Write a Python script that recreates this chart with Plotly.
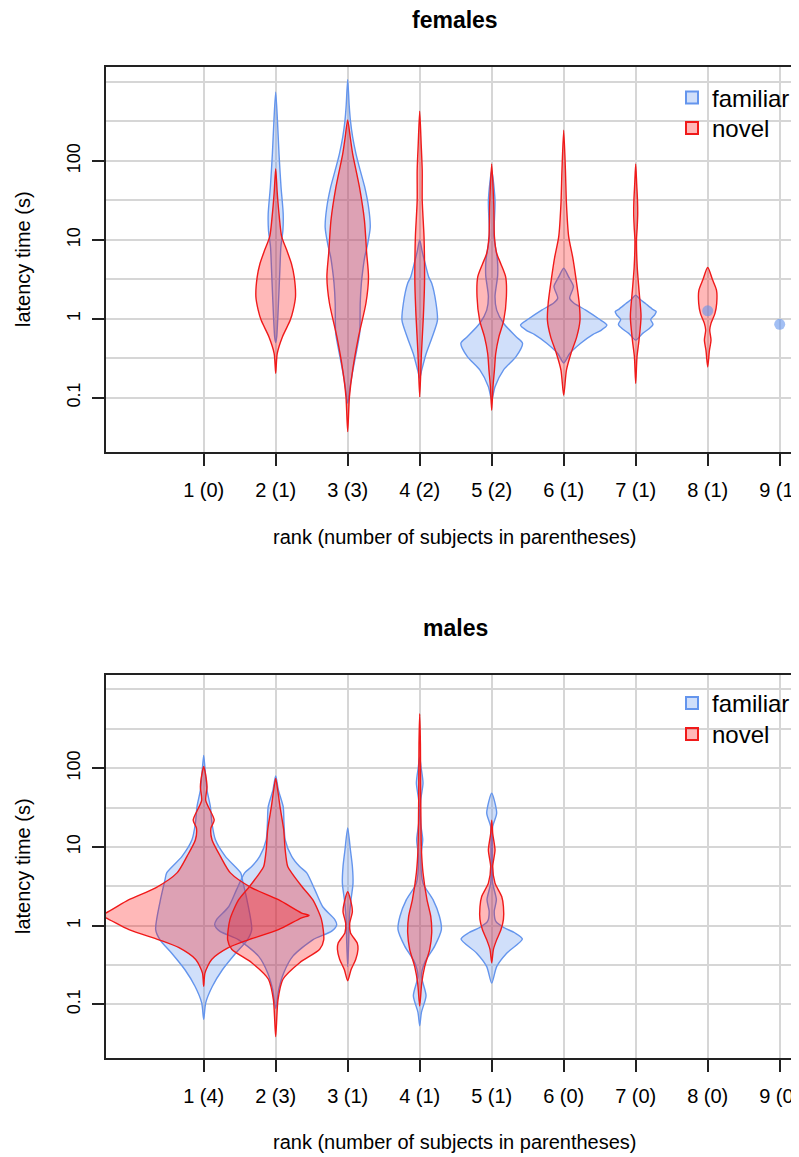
import plotly.graph_objects as go

# ---------------- categories / tick labels ----------------
ranks = [1, 2, 3, 4, 5, 6, 7, 8, 9]
female_tick_labels = ["1 (0)", "2 (1)", "3 (3)", "4 (2)", "5 (2)", "6 (1)", "7 (1)", "8 (1)", "9 (1)"]
male_tick_labels = ["1 (4)", "2 (3)", "3 (1)", "4 (1)", "5 (1)", "6 (0)", "7 (0)", "8 (0)", "9 (0)"]
y_tick_values = [0.1, 1, 10, 100]
y_tick_labels = ["0.1", "1", "10", "100"]
y_grid_values = [0.316, 3.16, 31.6, 316, 1000]

# ---------------- violin outlines ----------------
# *_log : log10 latency (s), from the top tip to the bottom tip
# *_w   : half width of the violin (in rank units) at each of those levels

# females
f2_fam_log = [2.87, 2.5, 2.09, 1.67, 1.33, 1.12, 0.91, 0.62, 0.19, -0.23, -0.3]
f2_fam_w = [0, .025, .046, .074, .104, .1, .072, .058, .038, .014, 0]
f2_nov_log = [1.90, 1.6, 1.3, 1.04, 0.87, 0.70, 0.53, 0.28, 0.11, -0.02, -0.23, -0.44, -0.69]
f2_nov_w = [0, .021, .049, .083, .153, .218, .257, .275, .243, .201, .093, .021, 0]

f3_fam_log = [3.03, 2.7, 2.51, 2.3, 2.09, 1.88, 1.67, 1.4, 1.16, 0.95, 0.78, 0.6, 0.45, 0.2, -0.18, -0.4, -0.61, -0.85, -1.07]
f3_fam_w = [0, .021, .038, .069, .115, .174, .236, .292, .313, .278, .236, .208, .19, .174, .167, .125, .081, .035, 0]
f3_nov_log = [2.52, 2.3, 2.09, 1.67, 1.25, 0.83, 0.53, 0.2, -0.23, -0.65, -0.99, -1.43]
f3_nov_w = [0, .035, .069, .163, .232, .264, .289, .254, .15, .069, .024, 0]

f4_fam_log = [1.0, 0.85, 0.70, 0.53, 0.45, 0.2, -0.02, -0.23, -0.44, -0.65, -0.75]
f4_fam_w = [0, .035, .076, .125, .167, .226, .246, .174, .09, .028, 0]
f4_nov_log = [2.63, 2.2, 1.88, 1.5, 1.04, 0.7, 0.45, 0.03, -0.44, -0.99]
f4_nov_w = [0, .021, .035, .035, .06, .067, .067, .051, .024, 0]

f5_fam_log = [1.88, 1.5, 1.04, 0.75, 0.55, 0.28, 0.11, -0.06, -0.23, -0.31, -0.48, -0.65, -0.86, -1.03]
f5_fam_w = [0, .046, .032, .079, .083, .046, .069, .167, .343, .428, .338, .163, .046, 0]
f5_nov_log = [1.96, 1.46, 1.04, 0.83, 0.7, 0.53, 0.28, -0.02, -0.23, -0.44, -0.65, -0.86, -1.16]
f5_nov_w = [0, .028, .038, .069, .125, .194, .204, .167, .1, .056, .038, .018, 0]

f6_fam_log = [0.64, 0.53, 0.41, 0.26, 0.2, 0.11, 0.0, -0.08, -0.15, -0.2, -0.31, -0.44, -0.56]
f6_fam_w = [0, .069, .135, .083, .139, .306, .486, .6, .514, .403, .236, .083, 0]
f6_nov_log = [2.39, 1.88, 1.46, 1.04, 0.78, 0.53, 0.2, -0.02, -0.23, -0.44, -0.65, -0.97]
f6_nov_w = [0, .024, .038, .069, .125, .167, .215, .226, .181, .101, .038, 0]

f7_fam_log = [0.30, 0.25, 0.19, 0.12, 0.09, 0.05, -0.01, -0.07, -0.12, -0.185, -0.27]
f7_fam_w = [0, .056, .139, .236, .285, .264, .208, .24, .194, .097, 0]
f7_nov_log = [1.96, 1.7, 1.5, 1.33, 1.16, 1.0, 0.66, 0.36, 0.03, -0.27, -0.48, -0.82]
f7_nov_w = [0, .014, .025, .028, .021, .011, .021, .046, .074, .046, .018, 0]

f8_nov_log = [0.65, 0.49, 0.363, 0.195, 0.068, -0.058, -0.143, -0.27, -0.4, -0.61]
f8_nov_w = [0, .069, .122, .125, .101, .046, .028, .046, .024, 0]

# single familiar observations (latency, s)
female_familiar_point_ranks = [8, 9]
female_familiar_point_latency = [1.26, 0.85]

# males
m1_fam_log = [2.16, 1.93, 1.72, 1.51, 1.30, 1.09, 0.88, 0.67, 0.58, 0.3, -0.05, -0.18, -0.35, -0.56, -0.77, -0.98, -1.19]
m1_fam_w = [0, .024, .046, .093, .115, .163, .301, .514, .538, .607, .667, .607, .444, .26, .121, .028, 0]
m1_nov_log = [2.02, 1.93, 1.76, 1.59, 1.34, 1.24, 1.09, 0.88, 0.67, 0.48, 0.33, 0.16, 0.13, 0.10, -0.05, -0.18, -0.28, -0.43, -0.6, -0.77]
m1_nov_w = [0, .024, .046, .028, .146, .101, .115, .232, .371, .667, 1.038, 1.36, 1.463, 1.36, 1.038, .621, .343, .111, .018, 0]

m2_fam_log = [1.90, 1.72, 1.51, 1.30, 1.09, 0.88, 0.75, 0.67, 0.46, 0.24, 0.08, 0.01, -0.07, -0.18, -0.39, -0.6, -0.81, -1.05]
m2_fam_w = [0, .038, .104, .115, .132, .222, .333, .431, .542, .653, .819, .847, .778, .514, .236, .111, .042, 0]
m2_nov_log = [1.87, 1.72, 1.51, 1.22, 0.96, 0.75, 0.67, 0.50, 0.33, 0.08, -0.18, -0.3, -0.47, -0.68, -0.94, -1.41]
m2_nov_w = [0, .028, .06, .111, .132, .167, .222, .361, .514, .635, .667, .611, .333, .101, .032, 0]

m3_fam_log = [1.24, 0.96, 0.75, 0.54, 0.33, 0.12, -0.2, -0.52]
m3_fam_w = [0, .038, .065, .074, .046, .024, .014, 0]
m3_nov_log = [0.43, 0.33, 0.18, 0.03, -0.09, -0.22, -0.3, -0.43, -0.56, -0.7]
m3_nov_w = [0, .038, .065, .028, .038, .132, .143, .111, .046, 0]

m4_fam_log = [2.14, 2.02, 1.81, 1.59, 1.3, 1.09, 0.88, 0.54, 0.33, 0.12, -0.05, -0.26, -0.47, -0.64, -0.89, -1.1, -1.27]
m4_fam_w = [0, .018, .046, .014, .014, .042, .018, .046, .185, .274, .301, .208, .069, .024, .088, .024, 0]
m4_nov_log = [2.69, 2.3, 1.59, 0.96, 0.67, 0.33, 0.12, -0.09, -0.3, -0.52, -0.73, -1.02]
m4_nov_w = [0, .01, .014, .024, .046, .101, .153, .167, .139, .069, .028, 0]

m5_fam_log = [1.68, 1.43, 1.26, 0.96, 0.54, 0.33, 0.18, 0.05, -0.03, -0.09, -0.17, -0.35, -0.52, -0.73]
m5_fam_w = [0, .069, .014, .01, .014, .065, .035, .06, .181, .319, .426, .208, .069, 0]
m5_nov_log = [1.34, 1.17, 0.96, 0.75, 0.54, 0.37, 0.24, 0.08, -0.05, -0.18, -0.3, -0.47]
m5_nov_w = [0, .014, .046, .014, .046, .139, .163, .163, .129, .069, .024, 0]

female_familiar = [(2, f2_fam_log, f2_fam_w), (3, f3_fam_log, f3_fam_w), (4, f4_fam_log, f4_fam_w),
                   (5, f5_fam_log, f5_fam_w), (6, f6_fam_log, f6_fam_w), (7, f7_fam_log, f7_fam_w)]
female_novel = [(2, f2_nov_log, f2_nov_w), (3, f3_nov_log, f3_nov_w), (4, f4_nov_log, f4_nov_w),
                (5, f5_nov_log, f5_nov_w), (6, f6_nov_log, f6_nov_w), (7, f7_nov_log, f7_nov_w),
                (8, f8_nov_log, f8_nov_w)]
male_familiar = [(1, m1_fam_log, m1_fam_w), (2, m2_fam_log, m2_fam_w), (3, m3_fam_log, m3_fam_w),
                 (4, m4_fam_log, m4_fam_w), (5, m5_fam_log, m5_fam_w)]
male_novel = [(1, m1_nov_log, m1_nov_w), (2, m2_nov_log, m2_nov_w), (3, m3_nov_log, m3_nov_w),
              (4, m4_nov_log, m4_nov_w), (5, m5_nov_log, m5_nov_w)]

# ---------------- styles ----------------
OFF = 8                      # the page body has an 8 px margin
W, H = 799 - OFF, 1157 - OFF  # figure size so that it ends at the window edge
FONT = "Liberation Sans, Arial, Helvetica, sans-serif"
BLUE_LINE = "#6495ED"
BLUE_FILL = "rgba(100,149,237,0.30)"
RED_LINE = "#F01A1A"
RED_FILL = "rgba(255,0,0,0.28)"
GRID = "#D6D6D6"
AXIS = "#222222"


def px_x(p):
    return (p - OFF) / W


def px_y(p):
    return 1 - (p - OFF) / H


def violin(center, logs, widths, line, fill, xa, ya):
    ys = [10 ** v for v in logs]
    xr = [center + w for w in widths]
    xl = [center - w for w in widths]
    return go.Scatter(
        x=xr + xl[-2::-1], y=ys + ys[-2::-1],
        mode="lines", fill="toself", fillcolor=fill,
        line=dict(color=line, width=1.4, shape="spline", smoothing=0.7),
        hoverinfo="skip", showlegend=False, xaxis=xa, yaxis=ya)


fig = go.Figure()

panels = [
    ("x", "y", female_familiar, female_novel, "legend", "legend2"),
    ("x2", "y2", male_familiar, male_novel, "legend3", "legend4"),
]
for xa, ya, fam, nov, leg_f, leg_n in panels:
    for c, lg, w in fam:
        fig.add_trace(violin(c, lg, w, BLUE_LINE, BLUE_FILL, xa, ya))
    for c, lg, w in nov:
        fig.add_trace(violin(c, lg, w, RED_LINE, RED_FILL, xa, ya))
    if xa == "x":
        fig.add_trace(go.Scatter(
            x=female_familiar_point_ranks, y=female_familiar_point_latency, mode="markers",
            marker=dict(size=11, color="rgba(100,149,237,0.6)", line=dict(width=0)),
            hoverinfo="skip", showlegend=False, xaxis=xa, yaxis=ya))
    # legend entries
    fig.add_trace(go.Scatter(x=[None], y=[None], mode="markers", name="familiar", legend=leg_f,
                             marker=dict(symbol="square", size=11, color=BLUE_FILL,
                                         line=dict(color=BLUE_LINE, width=1.5)),
                             xaxis=xa, yaxis=ya))
    fig.add_trace(go.Scatter(x=[None], y=[None], mode="markers", name="novel", legend=leg_n,
                             marker=dict(symbol="square", size=11, color=RED_FILL,
                                         line=dict(color=RED_LINE, width=1.5)),
                             xaxis=xa, yaxis=ya))

x_dom = [px_x(105.7), 1.0]
top_dom = [px_y(451.7), px_y(67.3)]
bot_dom = [px_y(1058.3), px_y(674.7)]
x_range = [-0.361, 9.268]
y_range = [-1.684, 3.186]


def xaxis_cfg(labels, anchor):
    return dict(domain=x_dom, range=x_range, anchor=anchor, tickmode="array", tickvals=ranks,
                ticktext=labels, ticks="outside", ticklen=12, tickwidth=1.5, tickcolor=AXIS,
                showline=True, linecolor=AXIS, linewidth=2, mirror=True,
                showgrid=True, gridcolor=GRID, gridwidth=1.5, zeroline=False,
                ticklabeloverflow="allow",
                tickfont=dict(size=20, family=FONT, color="black"), ticklabelstandoff=7)


def yaxis_cfg(dom, anchor):
    return dict(domain=dom, type="log", range=y_range, anchor=anchor, tickmode="array",
                tickvals=y_tick_values, ticktext=y_tick_labels, tickangle=-90,
                ticks="outside", ticklen=12, tickwidth=1.5, tickcolor=AXIS,
                showline=True, linecolor=AXIS, linewidth=2, mirror=False,
                showgrid=True, gridcolor=GRID, gridwidth=1.5, zeroline=False,
                minor=dict(tickmode="array", tickvals=y_grid_values, showgrid=True,
                           gridcolor=GRID, gridwidth=1.5, ticks=""),
                tickfont=dict(size=18, family=FONT, color="black"), ticklabelstandoff=5)


legend_common = dict(font=dict(size=24, family=FONT, color="black"), bgcolor="rgba(0,0,0,0)",
                     borderwidth=0, xanchor="left", yanchor="top", itemsizing="constant")

fig.update_layout(
    width=W, height=H, margin=dict(l=0, r=0, t=0, b=0, autoexpand=False),
    paper_bgcolor="white", plot_bgcolor="white",
    font=dict(family=FONT, color="black"),
    xaxis=xaxis_cfg(female_tick_labels, "y"),
    yaxis=yaxis_cfg(top_dom, "x"),
    xaxis2=xaxis_cfg(male_tick_labels, "y2"),
    yaxis2=yaxis_cfg(bot_dom, "x2"),
    legend=dict(x=px_x(672), y=px_y(75.5), **legend_common),
    legend2=dict(x=px_x(672), y=px_y(106), **legend_common),
    legend3=dict(x=px_x(672), y=px_y(681), **legend_common),
    legend4=dict(x=px_x(672), y=px_y(712), **legend_common),
    annotations=[
        dict(text="<b>females</b>", x=px_x(455), y=px_y(20), xref="paper", yref="paper",
             showarrow=False, font=dict(size=23, family=FONT), xanchor="center", yanchor="middle"),
        dict(text="<b>males</b>", x=px_x(455), y=px_y(628), xref="paper", yref="paper",
             showarrow=False, font=dict(size=23, family=FONT), xanchor="center", yanchor="middle"),
        dict(text="rank (number of subjects in parentheses)", x=px_x(455), y=px_y(537),
             xref="paper", yref="paper", showarrow=False, font=dict(size=20, family=FONT),
             xanchor="center", yanchor="middle"),
        dict(text="rank (number of subjects in parentheses)", x=px_x(455), y=px_y(1142),
             xref="paper", yref="paper", showarrow=False, font=dict(size=20, family=FONT),
             xanchor="center", yanchor="middle"),
        dict(text="latency time (s)", x=px_x(22.5), y=px_y(259.5), xref="paper", yref="paper",
             showarrow=False, textangle=-90, font=dict(size=20, family=FONT),
             xanchor="center", yanchor="middle"),
        dict(text="latency time (s)", x=px_x(22.5), y=px_y(866.5), xref="paper", yref="paper",
             showarrow=False, textangle=-90, font=dict(size=20, family=FONT),
             xanchor="center", yanchor="middle"),
    ],
)

fig.write_html("out.html")
